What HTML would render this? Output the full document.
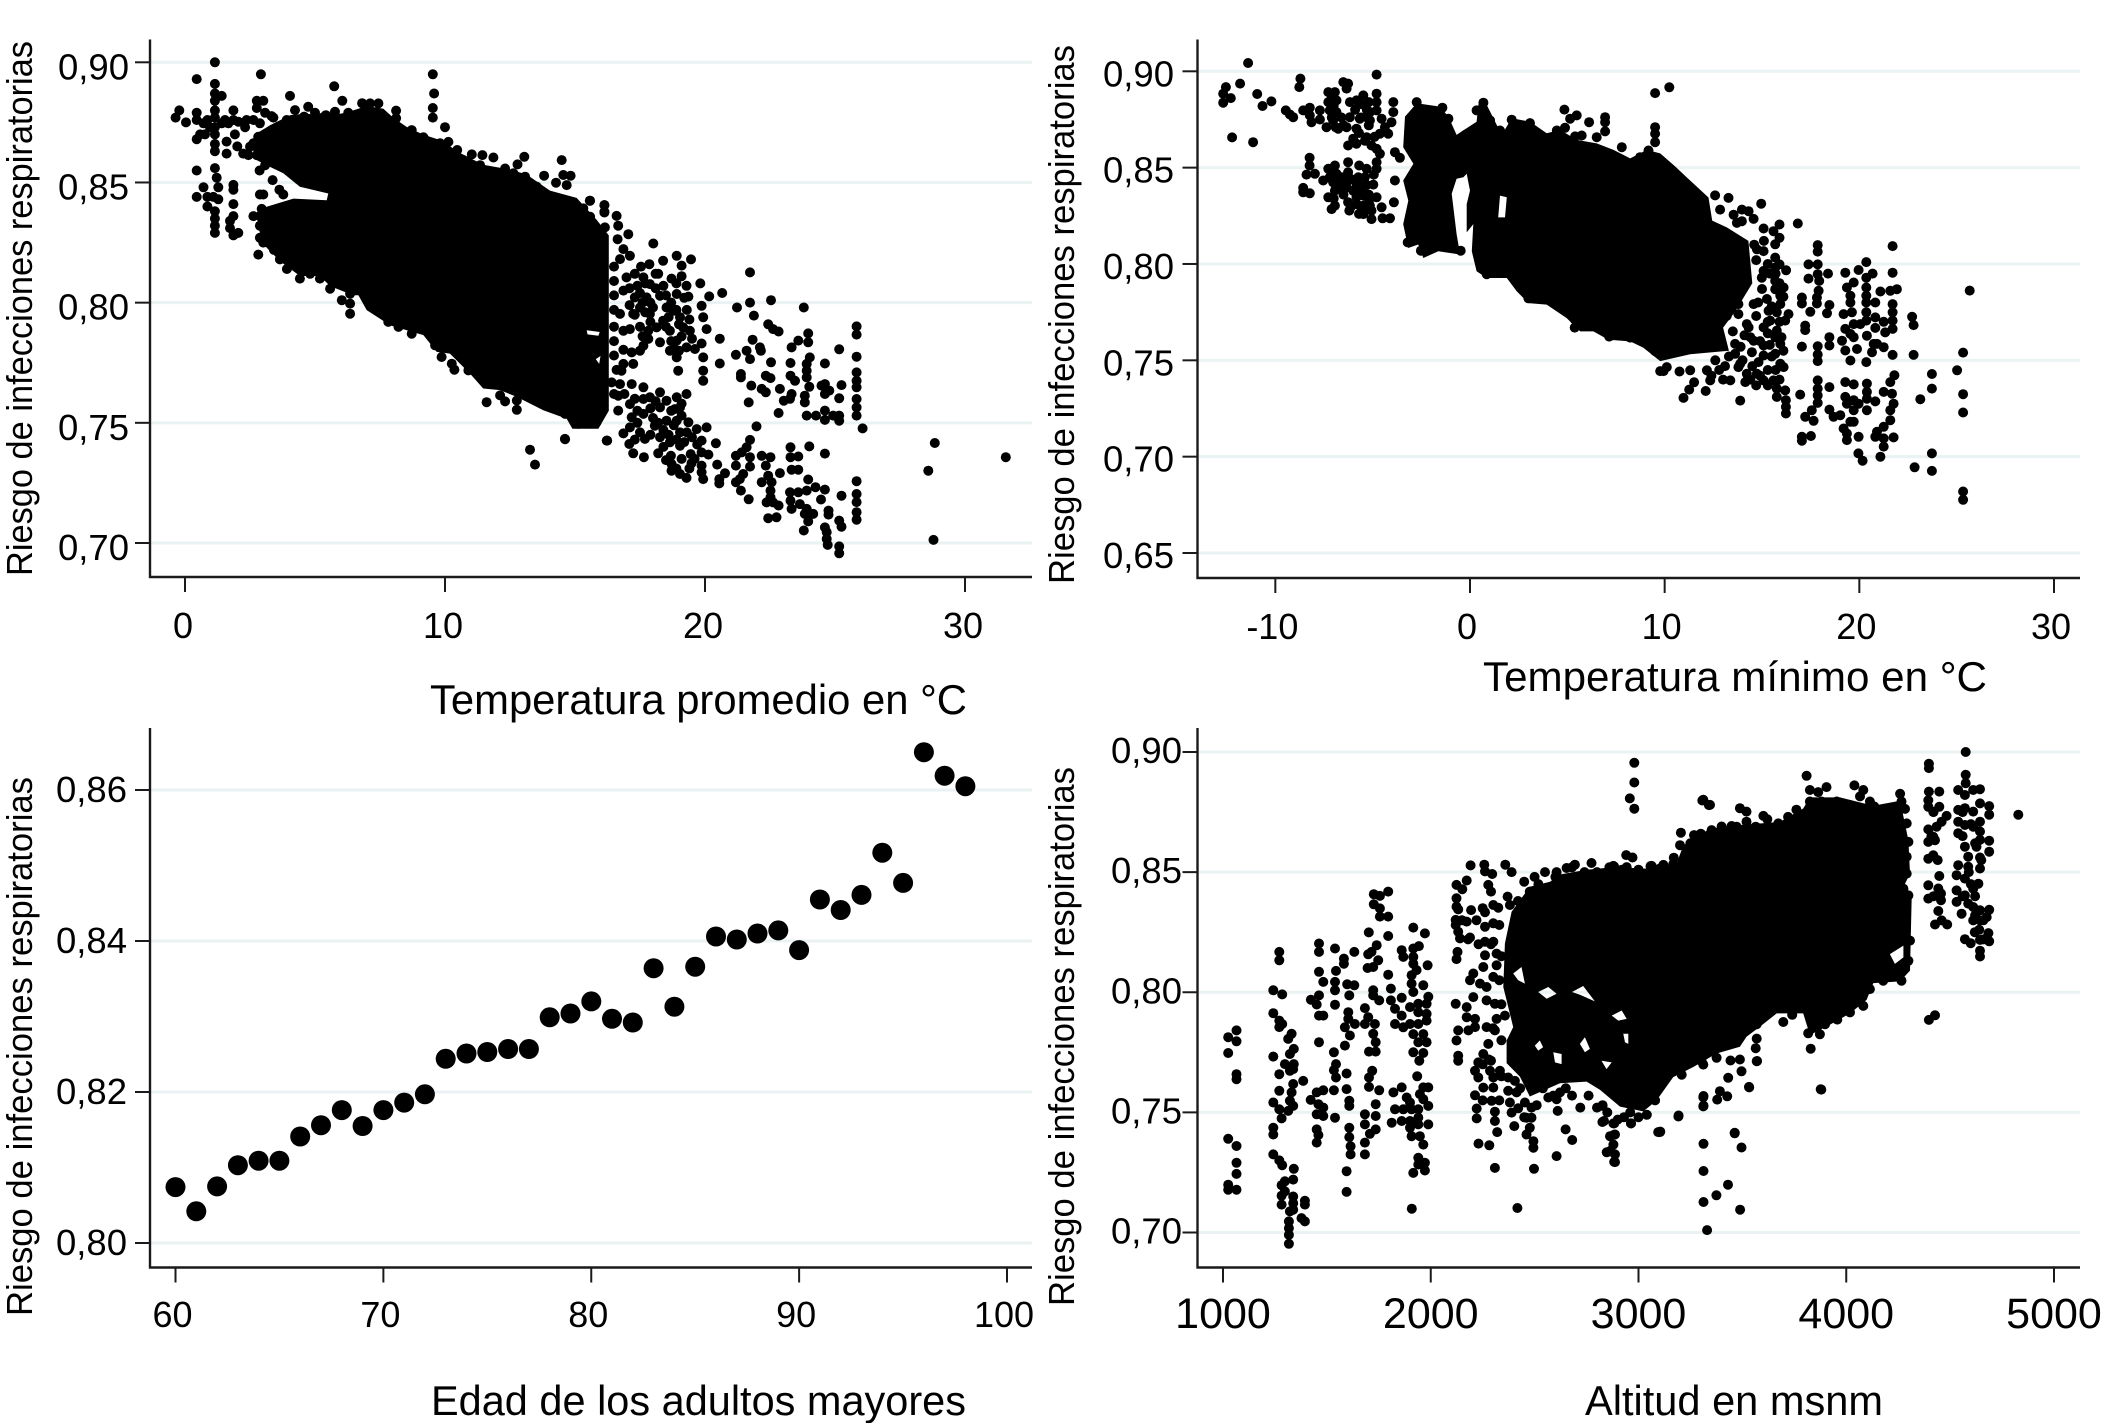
<!DOCTYPE html>
<html lang="es">
<head>
<meta charset="utf-8">
<title>Riesgo de infecciones respiratorias</title>
<style>
html,body{margin:0;padding:0;background:#fff;width:2124px;height:1423px;overflow:hidden}
svg{display:block}
text{font-family:"Liberation Sans",Arial,sans-serif;fill:#000}
.xt{font-size:41.5px;text-anchor:start}
.yt{font-size:36px;text-anchor:start}
</style>
</head>
<body>
<svg id="chart" width="2124" height="1423" viewBox="0 0 2124 1423" xmlns="http://www.w3.org/2000/svg">
  <g id="p1"></g>
  <g id="p2"></g>
  <g id="p3"></g>
  <g id="p4"></g>
  <text class="xt" x="430" y="714" textLength="537" lengthAdjust="spacingAndGlyphs">Temperatura promedio en °C</text>
  <text class="xt" x="1483" y="691" textLength="504" lengthAdjust="spacingAndGlyphs">Temperatura mínimo en °C</text>
  <text class="xt" x="431" y="1415" textLength="535" lengthAdjust="spacingAndGlyphs">Edad de los adultos mayores</text>
  <text class="xt" x="1585" y="1415" textLength="298" lengthAdjust="spacingAndGlyphs">Altitud en msnm</text>
  <text class="yt" transform="translate(32,576) rotate(-90)" textLength="535" lengthAdjust="spacingAndGlyphs">Riesgo de infecciones respiratorias</text>
  <text class="yt" transform="translate(1074,584) rotate(-90)" textLength="539" lengthAdjust="spacingAndGlyphs">Riesgo de infecciones respiratorias</text>
  <text class="yt" transform="translate(32,1316) rotate(-90)" textLength="539" lengthAdjust="spacingAndGlyphs">Riesgo de infecciones respiratorias</text>
  <text class="yt" transform="translate(1074,1306) rotate(-90)" textLength="539" lengthAdjust="spacingAndGlyphs">Riesgo de infecciones respiratorias</text>
</svg>
<script>
// ---- tick values and labels ----
const avgXTicks=[0,10,20,30];
const avgXLabels=['0','10','20','30'];
const avgYTicks=[0.90,0.85,0.80,0.75,0.70];
const avgYLabels=['0,90','0,85','0,80','0,75','0,70'];
const minXTicks=[-10,0,10,20,30];
const minXLabels=['-10','0','10','20','30'];
const minYTicks=[0.90,0.85,0.80,0.75,0.70,0.65];
const minYLabels=['0,90','0,85','0,80','0,75','0,70','0,65'];
const ageXTicks=[60,70,80,90,100];
const ageXLabels=['60','70','80','90','100'];
const ageYTicks=[0.86,0.84,0.82,0.80];
const ageYLabels=['0,86','0,84','0,82','0,80'];
const altXTicks=[1000,2000,3000,4000,5000];
const altXLabels=['1000','2000','3000','4000','5000'];
const altYTicks=[0.90,0.85,0.80,0.75,0.70];
const altYLabels=['0,90','0,85','0,80','0,75','0,70'];

// ---- edad panel: one mean value per age ----
const ageValues=[60,61,62,63,64,65,66,67,68,69,70,71,72,73,74,75,76,77,78,79,80,81,82,83,84,85,86,87,88,89,90,91,92,93,94,95,96,97,98];
const ageRisk=[.8074,.8042,.8075,.8103,.8109,.8109,.8141,.8156,.8176,.8155,.8176,.8186,.8197,.8244,.8251,.8253,.8257,.8257,.8299,.8304,.832,.8297,.8292,.8364,.8313,.8366,.8406,.8402,.841,.8414,.8388,.8455,.8441,.8461,.8517,.8477,.865,.8619,.8605];

// ---- temperatura promedio: [temp, risk] ----
const avgPoints=[[1.15,.9],[.45,.893],[2.92,.895],[9.53,.895],[9.58,.887],[9.53,.881],[9.53,.877],[10,.873],[5.74,.89],[4.04,.886],[6.05,.884],[6.81,.883],[-.22,.88],[-.36,.877],[.04,.875],[.45,.879],[.45,.876],[1.15,.891],[1.15,.887],[1.15,.884],[1.15,.88],[1.15,.877],[1.15,.873],[1.15,.87],[1.15,.866],[1.15,.863],[1.41,.886],[.86,.876],[.58,.87],[.45,.868],[.77,.87],[1.6,.867],[1.6,.862],[1.86,.88],[1.86,.876],[1.92,.87],[2.01,.865],[2.31,.873],[2.24,.862],[.45,.855],[.45,.844],[.71,.848],[1.15,.856],[1.22,.852],[1.28,.848],[1.09,.844],[1.28,.843],[.86,.844],[.86,.84],[1.15,.838],[1.15,.835],[1.15,.832],[1.15,.829],[1.86,.849],[1.86,.847],[1.86,.841],[1.86,.836],[1.73,.834],[1.73,.831],[2.05,.829],[1.86,.828],[2.76,.884],[3.01,.884],[2.76,.881],[3.08,.879],[3.4,.877],[2.87,.855],[3.37,.851],[3.63,.847],[3.78,.845],[2.88,.845],[3.01,.845],[2.63,.836],[2.95,.839],[2.88,.836],[2.88,.832],[2.88,.827],[3.01,.825],[2.82,.82],[3.42,.822],[3.65,.818],[3.92,.814],[4.42,.81],[4.81,.812],[5.19,.81],
[2.63,.876],[2.88,.8746],[2.5,.8649],[2.76,.8614],[3.08,.8572],[3.33,.8776],[3.59,.8732],[3.91,.876],[4.58,.8774],[5.32,.8771],[5.64,.8771],[6.22,.876],[2.37,.876],[2.44,.8614],[2.82,.869],[2.63,.8663],[1.41,.8746],[1.67,.8746],[2.05,.8753],[1.54,.876],[.71,.8746],[.96,.8729],
[4.23,.8801],[4.74,.8815],[5,.879],[5.42,.878],[5.77,.8794],[6.28,.879],[7.12,.8829],[7.44,.8829],[8.12,.8799],[8.12,.8767],[8.08,.8718],[8.72,.8718],[9.17,.8688],[9.81,.8663],[10.13,.8669],[10.47,.8635],[11.03,.8617],[11.44,.8614],[11.86,.8604],[10.71,.8593],[10.96,.8558],[11.35,.8572],[12.31,.8558],[12.79,.8575],[13.05,.8607],[12.63,.8538],[13.08,.8524],[13.81,.8528],[14.49,.8593],[14.55,.8531],[14.83,.8528],[14.27,.8499],[14.68,.8489],[13.53,.8482],[12.05,.8482],[15.58,.8424],[16.13,.8406],[16.13,.8378],[15.32,.8392],[15.9,.8301],[16.15,.8313],[15.58,.8357],
[6.35,.7954],[6.35,.7996],[6.35,.8037],[6.03,.801],[5.58,.8058],[7.82,.792],[8.21,.7899],[8.72,.7871],[8.21,.7943],[9.62,.7822],[9.87,.7774],[10.26,.7746],[10.36,.7721],[10.9,.7718],[10.96,.7739],[11.54,.7669],[11.6,.7586],[12.05,.7676],[12.12,.7614],[12.31,.7589],[12.76,.7642],[12.76,.7593],[12.76,.7554],[13.4,.76],[13.78,.7579],[14.1,.7579],[14.62,.7537],[15.13,.7496],[15.45,.7499],[15.83,.7503],[14.62,.7432],[16.22,.7426],[13.27,.7388],[13.46,.7326],
[21.73,.8126],[21.73,.8],[21.23,.798],[22.54,.801],[21.88,.7946],[23.8,.798],[18.01,.8246],[20.66,.804],[20.16,.8026],[19.82,.808],[18.91,.8195],[19.46,.818],[18.39,.8174],[18.2,.812],[17.86,.816],[17.54,.815],[19.1,.8154],[19.1,.811],[18.71,.81],[19.29,.807],[18.91,.8036],[19.36,.8025],[19.87,.7987],[19.93,.7939],[20.06,.789],[20.57,.785],[19.87,.783],[19.61,.7807],[20.57,.7747],[19.93,.7772],[19.93,.7717],[19.93,.7675],[18.97,.7717],[18.91,.7772],[18.65,.78],
[17.63,.8105],[17.88,.8077],[16.98,.8105],[16.86,.805],[17.3,.8022],[17.75,.8022],[18.27,.8029],[17.5,.798],[16.73,.7953],[17.24,.7953],[17.88,.7953],[18.52,.798],[18.78,.7966],[19.04,.7939],[18.39,.7925],[18.65,.7883],[19.16,.7897],[19.42,.7883],[18.14,.7897],[17.82,.7883],[17.82,.7849],[17.63,.7821],[18.27,.7835],[18.91,.7842],[19.29,.7814],[18.84,.7807],[16.86,.7883],[17.11,.789],[16.86,.7804],[17.5,.78],[17.18,.7793],[16.86,.7745],[17.24,.7745],[16.79,.7717],[16.66,.832],[17.05,.8285],[16.64,.8264],[16.86,.8223],[17.11,.8195],[16.73,.8181],[15.57,.8424],[16.13,.8406],[16.13,.8375],[16.6,.8361],[14.61,.7433],[16.24,.7426],
[16.5,.815],[16.5,.809],[16.5,.803],[16.5,.797],[16.5,.79],[16.5,.784],[16.5,.778],[16.6,.772],[17.3,.812],[17.4,.807],[17.5,.804],[17.6,.8],[17.7,.796],[17.9,.792],[17.9,.8],[18,.798],[18.1,.806],[18.1,.812],[18.4,.807],[18.5,.803],[18.6,.794],[18.7,.8],[18.9,.797],[19,.791],[19.1,.786],[19,.78],[18.7,.784],[18.5,.79],[18.9,.808],[19.2,.802],[19.3,.797],[19.4,.793],[19.5,.785],[17.5,.79],[17.6,.786],[17.3,.795],[17.1,.799],[17.1,.806],[17.7,.808],
[16.5,.762],[16.9,.762],[17.3,.76],[17.4,.755],[17.9,.756],[18,.752],[18.2,.75],[18.4,.747],[18.6,.745],[18.8,.749],[18.9,.743],[19.2,.742],[19.3,.746],[19.5,.744],[19.7,.741],[18.1,.759],[18.7,.755],[19.1,.753],[19.1,.758],[17.4,.75],[17.3,.743],[17.9,.745],[18.4,.74],[19.6,.735],[18.9,.731],[19.4,.731],[18.5,.7345],
[21.83,.7846],[22.11,.7814],[21.6,.78],[21.19,.7783],[21.73,.7765],[22.54,.7752],[22.15,.78],[21.38,.7703],[21.38,.7689],[22.34,.7696],[22.52,.7686],[21.78,.7655],[22.18,.7641],[22.34,.7627],[22.88,.7641],[23.33,.762],[23.03,.7592],[23.27,.76],[21.68,.7585],[22.83,.7541],[22.43,.791],[22.62,.789],[22.83,.788],[23.97,.7872],[23.97,.7835],[23.59,.7842],[23.33,.7814],[25.16,.7806],[25.83,.7901],[25.83,.7867],[25.83,.7775],[25.83,.771],[25.83,.7675],[25.83,.7648],[25.83,.7599],[25.83,.7564],[25.83,.753],[26.06,.7477],[23.29,.7749],[23.29,.7696],[23.46,.7675],[24.03,.7772],[23.91,.7745],[23.91,.7717],[23.91,.7689],[24.01,.765],[24.61,.7747],[24.61,.7661],[24.48,.7655],[25.25,.7657],[24.61,.762],[24.78,.7634],[25.16,.7602],[23.84,.7613],[23.84,.7585],[23.91,.753],[24.27,.753],[24.61,.7551],[24.61,.7512],[24.93,.753],[25.16,.7509],[25.16,.753],
[21.98,.7485],[21.73,.7429],[21.6,.7398],[21.41,.7377],[21.19,.7363],[21.73,.7357],[22.18,.7363],[22.52,.7357],[21.19,.7322],[21.73,.7318],[22.34,.7322],[22.88,.7291],[21.47,.7287],[21.34,.7266],[21.19,.7253],[22.18,.7253],[22.43,.728],[22.56,.7253],[21.38,.7218],[21.68,.7182],[22.52,.7218],[22.52,.719],[22.37,.7169],[22.62,.7169],[22.83,.7156],[22.43,.7103],[22.75,.7107],[23.29,.7398],[23.29,.7357],[23.59,.736],[24.01,.7402],[24.61,.7372],[23.33,.7305],[23.59,.7305],[23.97,.7264],[24.25,.7232],[24.61,.7222],[23.27,.7211],[23.59,.7211],[23.91,.7218],[23.29,.7176],[23.33,.7142],[23.65,.7162],[23.91,.7142],[23.84,.7121],[24.16,.7121],[23.97,.709],[23.8,.7052],[24.46,.7181],[25.25,.7197],[24.75,.7135],[24.75,.7118],[25.16,.7093],[25.25,.7068],[24.61,.7065],[24.68,.7045],[24.68,.7017],[24.72,.6992],[25.16,.6986],[25.16,.6957],[25.83,.7257],[25.83,.7204],[25.83,.717],[25.83,.7128],[25.83,.7097],[28.84,.7416],[28.59,.7301],[31.57,.7357],[28.79,.7013],
[16.41,.7668],[16.73,.7661],[17.18,.7661],[17.63,.7648],[16.66,.7613],[17.11,.7578],[17.63,.7599],[17.88,.7606],[18.27,.7627],[18.52,.7592],[18.91,.7606],[19.29,.762],[16.66,.7551],[17.18,.7523],[17.63,.7537],[18.27,.7564],[18.84,.7557],[19.04,.7564],[16.86,.7456],[17.11,.7481],[17.5,.746],[17.69,.7433],[18.07,.7488],[18.52,.7509],[18.91,.7509],[19.36,.7502],[19.04,.746],[19.68,.7474],[20.06,.7481],[18.27,.744],[18.65,.7419],[19.04,.7405],[19.87,.7426],[20.42,.7415],[19.87,.7377],[20.13,.7368],[17.09,.7412],[17.24,.7373],[17.65,.7357],[18.2,.7373],[18.69,.7363],[19.1,.735],[19.45,.737],[19.48,.7332],[18.71,.7329],[18.71,.7301],[19.04,.7287],[19.29,.7271],[19.87,.7322],[19.87,.7294],[19.93,.7266],[20.47,.7326],[20.77,.729],[20.55,.7266],[20.55,.7248]];
// outline of the fully overplotted region, plus the small gaps left inside it
const avgMass=[
 [[2.63,.8696],[3.27,.8738],[4.04,.878],[4.68,.8787],[5.32,.8773],[6.22,.8791],[6.99,.8818],[7.63,.8807],[8.01,.8769],[8.53,.8731],[9.17,.8699],[9.94,.8672],[10.45,.863],[11.47,.8574],[12.5,.8554],[13.14,.8533],[14.04,.8466],[15.06,.8436],[15.83,.8345],[16.3,.828],[16.3,.7675],[16.3,.755],[15.9,.7475],[14.9,.7475],[14.68,.7517],[13.78,.7552],[12.76,.7608],[12.12,.7636],[11.47,.7643],[10.96,.7705],[10.19,.7788],[9.68,.7795],[9.17,.7865],[7.88,.7906],[6.99,.7969],[6.67,.8031],[6.47,.8031],[5.58,.8069],[5.19,.8111],[4.42,.8111],[3.65,.8173],[2.95,.825],[2.76,.8357],[3.14,.8399],[4.17,.8433],[5.45,.8426],[5.51,.8454],[4.42,.8482],[3.78,.8538],[3.14,.8572],[2.63,.86]],
 [[15.45,.7885],[15.95,.7878],[15.9,.7862],[15.48,.7868]],
 [[15.8,.7765],[15.98,.7778],[15.93,.7745]]
];

// ---- temperatura minimo: [temp, risk] ----
const minPoints=[[-11.4,.9043],[-12.54,.8918],[-12.68,.8884],[-12.68,.8837],[-12.29,.8861],[-11.81,.8936],[-10.93,.8882],[-10.66,.882],[-10.2,.8844],[-12.22,.8657],[-11.14,.8632],[-9.46,.8797],[-9.25,.8776],[-9.08,.8762],[-8.71,.8962],[-8.77,.8918],[-4.8,.8983],[-8.57,.8797],[-8.23,.8811],[-8.23,.8771],[-8.14,.8736],[-7.71,.8797],[-7.71,.875],[-7.28,.8892],[-6.94,.8892],[-7.28,.884],[-6.86,.8849],[-7.2,.8797],[-6.86,.8788],[-7.37,.871],[-7.03,.8745],[-6.77,.8702],[-6.51,.8944],[-6.26,.8936],[-6.34,.891],[-6.17,.884],[-5.83,.8849],[-5.48,.8875],[-4.8,.8884],[-4.8,.884],[-4.8,.8797],[-5.14,.8788],[-4.54,.8754],[-3.94,.884],[-3.94,.8788],[-4.03,.8736],[-4.37,.871],[-4.2,.8676],[-4.63,.8676],[-5.14,.8745],[-5.66,.8754],[-6.17,.8762],[-6.34,.871],[-5.83,.8702],[-6,.865],[-6.26,.8615],[-5.83,.8624],[-5.31,.8658],[-5.06,.8615],[-4.8,.8598],[-4.63,.8572],[-5.31,.8762],
[-7.1,.886],[-7,.882],[-6.6,.876],[-6.5,.872],[-7.1,.876],[-6.9,.871],[-5.9,.88],[-5.6,.883],[-5.6,.876],[-5.2,.884],[-5.2,.872],[-5.7,.868],[-5.4,.864],[-4.9,.866],[-5.3,.88],
[-6.9,.847],[-6.6,.845],[-6.6,.84],[-6.5,.836],[-7,.844],[-7,.834],[-6.1,.844],[-6,.838],[-5.7,.841],[-5.6,.836],[-5.3,.841],[-5.2,.836],[-5.2,.832],[-5.6,.83],[-5.7,.826],[-5.3,.828],[-6.1,.83],
[-8.24,.8551],[-8.24,.8511],[-8.4,.8464],[-7.97,.8468],[-8.57,.8395],[-8.57,.8372],[-8.23,.8367],[-7.54,.8433],[-7.28,.8494],[-6.94,.8511],[-7.2,.845],[-6.86,.8468],[-7.03,.8424],[-6.68,.8442],[-6.26,.8528],[-6.26,.8476],[-6.26,.8433],[-5.69,.8511],[-5.31,.8494],[-4.8,.8528],[-4.8,.8494],[-4.94,.8464],[-5.74,.845],[-5.4,.845],[-5.83,.8416],[-4.97,.8412],[-6.94,.8381],[-7.28,.8346],[-6.68,.8416],[-6.34,.8398],[-5.91,.8381],[-5.48,.8398],[-5.48,.8355],[-5.83,.8346],[-4.8,.8346],[-6.94,.8303],[-7.11,.8285],[-6.26,.832],[-6.2,.8277],[-5.83,.8311],[-5.48,.8303],[-5.14,.8303],[-5.48,.8259],[-5.06,.8233],[-5.06,.8277],[-4.54,.8294],[-4.49,.8237],[-4.11,.8237],[-3.91,.832],[-3.86,.8433],[-3.86,.858],[-3.6,.8551],
[13.28,.8343],[14.96,.8313],[16.84,.821],[12.59,.8356],[12.85,.8282],[13.54,.8256],[13.97,.8282],[14.31,.8274],[14.57,.8234],[13.97,.8222],[13.71,.8213],[15.08,.8184],[15.9,.8205],[15.59,.817],[15.9,.8136],[15.68,.8102],[15.08,.8067],[14.74,.8076],[15.68,.8033],[15.9,.7998],[16.24,.7967],[15.68,.7981],[15.08,.7964],[14.99,.7929],[15.68,.7912],[15.68,.7869],[16.11,.7878],[15.94,.7835],[15.25,.7818],[14.57,.7792],[15.94,.7792],[13.79,.7792],[13.79,.774],[15.34,.7757],[15.76,.7749],[16.36,.774],[16.19,.7706],[13.19,.7731],[14.22,.7688],[14.31,.7671],[15.08,.7671],[15.42,.7706],[15.76,.7654],[15.68,.762],[15.94,.7585],[14.57,.7602],[15.08,.7577],[14.48,.7542],[15.08,.7525],[15.68,.7534],[14.82,.7491],[15.94,.7482],[16.11,.7465],[13.62,.7585],[13.62,.7534],[13.88,.7482],[13.79,.7465],[14.22,.743],[13.37,.7396],[14.14,.7387],[14.74,.743],[15.08,.7396],[15.59,.7396],[15.76,.7353],[16.19,.7344],[15.76,.731],[16.23,.7293],[16.23,.7258],[16.23,.7224],[12.17,.7448],[12.34,.7396],[11.51,.7386],[11.26,.7348],[12.11,.7341],[10.97,.7305],[13.88,.7291],[11.31,.7448],[10.76,.7442],[9.94,.7444],[10.11,.7465],
[12.6,.81],[13,.805],[13.3,.8],[13.7,.81],[14,.805],[14.6,.81],[14.7,.802],[15.1,.812],[15.3,.8],[15.4,.795],[15,.787],[14.8,.78],[14.7,.773],[14.4,.762],[14.9,.76],[15.3,.764],[15.4,.758],[15.5,.752],[15.3,.745],[14.9,.742],[14.5,.747],[14,.75],[13.9,.757],[14.1,.763],[13.5,.765],[13.3,.752],[13.1,.747],[12.8,.745],[12.6,.75],[13,.74],[12.4,.742],[15.7,.795],[15.9,.79],[16.1,.783],[15.5,.778],[15.3,.77],[15.9,.77],[16,.762],[16.1,.755],[15.7,.745],[15.9,.74],[14.4,.74],[15.3,.737],[14.7,.737],
[17.86,.8098],[17.86,.8064],[17.39,.7998],[17.86,.7998],[17.39,.7924],[17.86,.7947],[17.94,.7912],[18.39,.795],[17.91,.7861],[17.82,.7826],[17.82,.7795],[17.05,.7826],[17.05,.7795],[17.48,.7752],[18.46,.7787],[18.34,.7744],[17.22,.768],[17.22,.7657],[17.05,.7571],[17.86,.7573],[17.86,.753],[17.86,.7496],[18.46,.762],[18.46,.7577],[19.28,.7955],[19.96,.7969],[20.36,.801],[20.68,.795],[19.71,.7904],[19.36,.7878],[19.54,.7835],[19.54,.78],[19.19,.774],[19.62,.7749],[20.36,.7929],[20.36,.7878],[20.36,.7835],[20.36,.78],[20.36,.7749],[20.36,.7706],[20.82,.78],[21.08,.7857],[21.59,.7861],[21.93,.7869],[21.71,.7955],[21.71,.8093],[21.71,.7792],[21.71,.7749],[21.71,.7706],[21.71,.7663],[20.82,.7723],[21.25,.77],[20.82,.7668],[21.33,.7645],[19.71,.7688],[20.05,.7688],[19.28,.7663],[19.54,.7637],[19.11,.7602],[19.71,.762],[20.39,.7628],[20.91,.7585],[21.25,.7568],[20.65,.7542],[19.28,.7551],[19.88,.7559],[19.54,.7499],[20.36,.7491],[21.71,.7528],[22.79,.7528],[20.74,.7585],[22.71,.7726],[22.79,.7683],[25.67,.7862],[25.33,.754],[25.02,.7448],[25.33,.7324],[25.33,.7229],[23.73,.7429],[23.73,.7353],[23.13,.7298],[23.73,.7017],[22.84,.6945],[23.73,.6926],[25.33,.6819],[25.33,.6776],
[17.86,.7396],[17.86,.7353],[17.86,.7318],[17.86,.7279],[18.46,.7361],[16.96,.7322],[17.56,.7241],[17.22,.7207],[17.65,.7186],[17.05,.7103],[17.05,.7083],[17.51,.7107],[18.46,.7244],[18.68,.7207],[19.02,.7215],[19.28,.7387],[19.71,.7375],[19.28,.731],[19.36,.7275],[19.71,.7293],[19.71,.7241],[19.96,.7275],[20.39,.7379],[20.39,.7336],[20.39,.7301],[20.82,.7287],[20.39,.7241],[19.19,.7146],[19.54,.7181],[19.71,.7181],[19.36,.712],[19.36,.7086],[19.96,.7103],[21.8,.7422],[21.59,.7387],[21.25,.7336],[21.68,.7327],[21.76,.7275],[21.59,.7241],[21.59,.7189],[21.25,.7155],[20.91,.7129],[20.82,.7103],[21.25,.7095],[21.76,.71],[21.25,.7052],[21.08,.7],[19.95,.7017],[20.17,.6979],
[4.85,.8801],[5.14,.8754],[5.48,.8771],[6.12,.8736],[6.94,.8762],[6.94,.8736],[6.94,.8688],[6.51,.8658],[5.74,.8667],[5.4,.8662],[4.46,.8693],[4.88,.8707],[7.8,.8606],[8.74,.8554],[9.17,.8589],[9.51,.8887],[10.24,.8917],[9.51,.871],[9.51,.8676],[9.51,.8632],[3.08,.8731],[2.14,.8749],[1.54,.8693],[.69,.8837],[.34,.8797],[1.03,.8745],[-2.74,.884],[-1.42,.8811],[-1.11,.8754],[5.38,.7713],[5.38,.767],[6.34,.7678],[7.15,.7623],[8.23,.7618],[3,.7822],[.86,.7947],[-.48,.8069],[-2.52,.8069],[-3.2,.8112],[-1.63,.8095],[9.51,.7548],[9.77,.7444]];
const minMass=[
 [[-3.34,.8765],[-2.74,.8834],[-1.54,.8817],[-1.11,.8765],[-.69,.867],[-.34,.8694],[.34,.8738],[.43,.8826],[.69,.886],[1.2,.8756],[1.63,.867],[2.14,.8756],[3.08,.8739],[3.94,.8678],[4.63,.8696],[5.48,.8644],[6.51,.8626],[7.37,.8592],[8.23,.8548],[9.08,.8592],[9.77,.8574],[10.5,.851],[11.14,.8449],[12.25,.8345],[12.44,.8225],[13.19,.819],[14.3,.812],[14.5,.79],[13.6,.775],[13,.767],[13.3,.755],[11.31,.7531],[9.77,.7496],[8.91,.7565],[8.23,.7598],[7.11,.7607],[6.34,.765],[5.66,.765],[4.97,.7719],[3.94,.7789],[3,.7797],[2.4,.7858],[1.89,.7927],[.86,.7927],[.34,.7962],[.09,.8066],[.17,.8207],[-.17,.8164],[-.17,.8311],[0,.8381],[-.17,.8468],[-.34,.845],[-.69,.8442],[-.94,.8364],[-.69,.8155],[-.51,.8049],[-1.63,.8066],[-2.4,.8031],[-2.66,.8101],[-3.17,.8083],[-3.43,.8207],[-3.17,.8329],[-3.43,.8433],[-2.91,.852],[-3.43,.8606]],
 [[1.54,.8355],[1.89,.8346],[1.8,.8242],[1.45,.8242]]
];

// ---- altitud: [msnm, risk] ----
const altPoints=[[1065,.7841],[1025,.7813],[1065,.7796],[1025,.7747],[1065,.7659],[1065,.7638],[1025,.739],[1065,.736],[1065,.729],[1065,.7244],[1025,.7199],[1025,.7178],[1065,.7178],[1271,.8168],[1271,.8133],[1242,.8008],[1285,.7991],[1242,.7913],[1271,.7882],[1285,.7868],[1271,.7855],[1330,.7827],[1314,.7806],[1341,.7764],[1322,.7743],[1242,.7732],[1298,.7701],[1341,.7701],[1322,.7673],[1338,.768],[1271,.7659],[1386,.7631],[1338,.7618],[1271,.759],[1330,.7583],[1322,.7548],[1338,.7527],[1242,.7541],[1271,.7513],[1314,.7506],[1282,.7475],[1242,.7436],[1242,.7408],[1242,.7325],[1271,.73],[1285,.728],[1341,.7265],[1338,.722],[1298,.7213],[1282,.7197],[1298,.7171],[1282,.7153],[1338,.715],[1338,.7122],[1282,.7116],[1322,.7088],[1338,.7095],[1394,.7132],[1394,.7116],[1378,.706],[1394,.7046],[1317,.7046],[1317,.7018],[1317,.699],[1317,.6953],
[1462,.8203],[1462,.8168],[1539,.8182],[1632,.8168],[1582,.814],[1582,.8119],[1462,.8085],[1544,.8089],[1483,.8043],[1539,.8043],[1539,.8008],[1598,.8033],[1632,.8029],[1608,.7987],[1423,.7969],[1462,.7987],[1451,.7949],[1539,.7948],[1462,.7903],[1483,.7903],[1603,.7917],[1603,.7889],[1635,.7868],[1587,.7854],[1611,.782],[1587,.7778],[1534,.775],[1462,.7792],[1544,.7701],[1534,.7676],[1544,.7645],[1595,.7662],[1483,.7592],[1451,.7583],[1422,.7552],[1459,.7534],[1483,.752],[1451,.7492],[1483,.7485],[1534,.7592],[1595,.7597],[1539,.7478],[1608,.7548],[1608,.7527],[1451,.7429],[1459,.7406],[1451,.7374],[1608,.7436],[1608,.7397],[1614,.7359],[1614,.7325],[1595,.7255],[1595,.7169],
[1726,.8408],[1755,.8401],[1795,.8419],[1726,.8366],[1755,.8349],[1755,.8315],[1795,.8315],[1702,.8249],[1795,.8234],[1740,.8196],[1715,.8168],[1699,.8158],[1747,.8133],[1723,.8105],[1696,.8101],[1795,.8073],[1723,.8008],[1752,.7966],[1723,.7987],[1683,.7934],[1699,.7896],[1683,.7868],[1731,.7868],[1723,.7827],[1735,.7792],[1703,.7753],[1735,.7753],[1718,.7673],[1703,.7645],[1703,.7606],[1752,.7592],[1735,.7534],[1683,.7492],[1735,.7485],[1683,.745],[1735,.7429],[1707,.7411],[1683,.7374],[1683,.7325],
[1916,.8269],[1972,.8245],[1860,.8175],[1868,.8147],[1916,.8182],[1943,.8192],[1916,.8147],[1916,.8119],[1985,.8112],[1932,.8092],[1908,.8071],[1964,.8029],[1908,.8036],[1916,.8001],[1860,.7977],[1808,.8015],[1808,.7966],[1828,.7931],[1988,.7981],[1900,.7938],[1940,.7952],[1980,.7952],[1940,.7917],[1980,.791],[1860,.7903],[1828,.7868],[1868,.7854],[1900,.7868],[1940,.7868],[1980,.7882],[1916,.7826],[1964,.7826],[1940,.7792],[1980,.7792],[1916,.775],[1964,.7747],[1945,.7715],[1935,.765],[1964,.7604],[1988,.7604],[1948,.7576],[1964,.7555],[1988,.7527],[1988,.745],[1860,.7604],[1820,.7583],[1884,.7562],[1900,.7541],[1828,.7513],[1868,.7513],[1908,.7513],[1940,.7513],[1812,.7457],[1860,.7464],[1900,.7464],[1940,.7478],[1940,.745],[1900,.7436],[1908,.7401],[1948,.7401],[1964,.7366],[1940,.7311],[1972,.729],[1916,.7248],[1972,.7258],[1940,.7283],[1909,.7099],
[2192,.8528],[2258,.8531],[2296,.8492],[2261,.8503],[2359,.8531],[2389,.85],[2173,.8465],[2124,.8447],[2152,.8429],[2277,.8447],[2290,.8419],[2124,.8391],[2124,.8356],[2132,.8345],[2194,.8342],[2261,.8333],[2301,.8363],[2325,.8352],[2370,.8398],[2381,.8363],[2120,.8301],[2120,.828],[2132,.8252],[2141,.8224],[2173,.8294],[2189,.8228],[2129,.8168],[2124,.8138],[2261,.8273],[2301,.8287],[2261,.821],[2301,.821],[2261,.8154],[2317,.8161],[2253,.8105],[2317,.8112],[2205,.8078],[2189,.805],[2237,.8036],[2269,.8022],[2301,.8064],[2205,.798],[2269,.7966],[2309,.7952],[2120,.7952],[2173,.7938],[2173,.7896],[2213,.7889],[2132,.7841],[2124,.7799],[2132,.7736],[2132,.7715],[2181,.7841],[2213,.7855],[2269,.7855],[2309,.7841],[2317,.7889],[2357,.7903],[2277,.7785],[2253,.7743],[2290,.7715],[2229,.7708],[2213,.7673],[2285,.7673],[2333,.7673],[2229,.7645],[2301,.7645],[2253,.7603],[2301,.7603],[2213,.7571],[2293,.7548],[2221,.7516],[2221,.7475],[2309,.7503],[2309,.7464],[2320,.7418],[2230,.737],[2282,.7363],[2309,.7269],[2373,.7645],[2405,.7631],[2373,.759],[2413,.7583],[2381,.7541],[2453,.7541],[2389,.7499],[2421,.7517],[2461,.7478],[2485,.752],[2485,.7478],[2477,.7436],[2461,.7408],[2494,.738],[2494,.7353],[2402,.7443],[2497,.7265],[2417,.7102],
[2150,.83],[2180,.822],[2220,.83],[2230,.82],[2250,.835],[2290,.82],[2330,.828],[2340,.815],[2330,.805],[2340,.795],[2300,.785],[2280,.772],[2340,.78],[2250,.77],[2250,.755],[2330,.755],[2340,.765],[2400,.775],[2430,.76],[2450,.748],[2510,.753],[2540,.76],[2590,.757],[2650,.76],[2680,.757],[2720,.752],[2760,.757],[2800,.752],[2850,.75],[2900,.747],[2930,.748],[2960,.75],[3000,.748],[3040,.749],[3080,.755],
[2420,.838],[2450,.846],[2500,.848],[2550,.85],[2600,.848],[2680,.852],[2740,.85],[2800,.85],[2860,.852],[2920,.851],[3000,.851],[3120,.853],[3170,.856],[3250,.862],[3300,.866],[3400,.869],[3520,.871],[3620,.872],[3720,.873],[3760,.876],
[4560,.875],[4560,.865],[4600,.87],[4620,.862],[4590,.85],[4600,.845],[4560,.84],[4620,.84],[4650,.855],[4660,.83],[4620,.832],[4640,.826],[4660,.822],[4420,.875],[4410,.865],[4440,.855],[4420,.84],
[2566,.7562],[2606,.7555],[2622,.7583],[2611,.7506],[2649,.7429],[2681,.7385],[2606,.7318],[2826,.7527],[2826,.746],[2879,.7454],[2964,.7454],[3095,.7418],[2887,.7408],[2863,.7401],[2879,.7366],[2847,.7334],[2887,.7325],[2887,.7293],[2606,.85],[2654,.8517],[2694,.8531],[2774,.8538],[2879,.8526],[2943,.8521],[3063,.8526],[2518,.845],[2477,.8419],
[3312,.8801],[3344,.878],[3488,.8766],[3520,.8752],[3601,.8734],[3204,.8664],[3200,.8612],[3267,.8654],[3167,.8533],[3058,.8525],[3103,.8515],[3036,.848],[3448,.8692],[3472,.8689],[3564,.8689],[3352,.8675],[3633,.8682],[3673,.8703],[3761,.8717],[3809,.8901],[3825,.8842],[3865,.8833],[3905,.8854],[4039,.8861],[4082,.8842],[4066,.8815],[4114,.8794],[4135,.8773],[4259,.8826],[4266,.8794],[4283,.8763],[4218,.8759],[3954,.8794],[3881,.8794],[3825,.8794],[4015,.878],[4291,.8703],[4299,.8626],[4291,.8564],[4291,.8494],[4275,.8431],[4299,.8403],[4283,.8334],[4307,.8215],[4299,.8131],[4266,.8048],[4178,.8048],[4114,.8013],[4082,.7943],[4018,.7916],[3957,.7886],[3898,.7867],[3873,.7825],[3817,.7829],[3829,.7765],[3880,.7595],[3740,.7906],[3697,.7876],[3569,.7867],[3569,.7807],[3564,.7767],[3569,.7713],[3533,.7604],[3488,.772],[3443,.7716],[3496,.7671],[3432,.7644],[3392,.7588],[3427,.7567],[3379,.7553],[3312,.7563],[3312,.7525],[3304,.7713],[3312,.7699],[3376,.7727],[3232,.7699],[3208,.7657],[3192,.7483],[3103,.7418],[3463,.7413],
[3105,.742],[3193,.7487],[3313,.7568],[3313,.7528],[3313,.7369],[3313,.7256],[3313,.7127],[3330,.701],[3375,.7155],[3431,.7199],[3489,.7095],[3496,.7354],[3463,.7415],[3532,.7606],[3571,.7714],[3877,.7596],[2964,.7454],[2883,.7454],[2883,.7407],[2866,.7341],[2883,.7294],[2834,.7464],[2827,.753],[2980,.8955],[2980,.8873],[2958,.8807],[2980,.8764],[2941,.8571],[2971,.8561],[2883,.8523],[2948,.8476],[3062,.8523],[3111,.8514],[3307,.8798],[3339,.8779],
[4398,.8951],[4398,.8933],[4575,.9],[4575,.8905],[4828,.8739],[4398,.8835],[4395,.8799],[4395,.8772],[4419,.8751],[4448,.8835],[4448,.8772],[4483,.8734],[4459,.871],[4435,.8689],[4395,.8678],[4419,.8647],[4395,.8626],[4427,.8633],[4419,.857],[4395,.8556],[4448,.8484],[4395,.8445],[4395,.839],[4443,.8432],[4456,.8411],[4456,.8383],[4443,.8338],[4427,.8282],[4459,.8299],[4486,.8282],[4398,.7885],[4427,.7904],
[4575,.887],[4539,.8842],[4571,.8821],[4611,.8842],[4644,.8845],[4644,.8786],[4688,.8775],[4688,.8739],[4539,.8759],[4571,.8766],[4611,.8752],[4539,.871],[4571,.8696],[4539,.8662],[4611,.8689],[4644,.871],[4644,.8669],[4644,.8634],[4688,.8631],[4688,.8585],[4571,.8606],[4627,.8606],[4587,.8564],[4644,.8561],[4539,.8529],[4587,.8522],[4644,.8515],[4531,.8487],[4571,.8473],[4531,.8424],[4571,.8403],[4636,.8452],[4611,.8431],[4531,.8376],[4587,.8369],[4611,.8355],[4555,.8327],[4644,.8341],[4688,.8343],[4611,.8299],[4644,.8299],[4676,.8313],[4619,.825],[4684,.8246],[4571,.8221],[4599,.8204],[4644,.8218],[4688,.8212],[4644,.8173],[4644,.8149]];
const altMass=[
 [[2389,.8335],[2477,.8439],[2574,.846],[2622,.849],[2750,.851],[2878,.852],[3055,.8514],[3183,.8535],[3216,.8612],[3344,.8681],[3472,.8695],[3681,.8709],[3793,.8765],[3825,.8811],[3970,.8811],[4130,.8776],[4259,.8797],[4299,.8633],[4307,.8494],[4275,.8438],[4315,.8396],[4307,.809],[4259,.8045],[4130,.8038],[4098,.7968],[4018,.7912],[3905,.7857],[3825,.7822],[3793,.7912],[3665,.7912],[3585,.7857],[3520,.7815],[3488,.7773],[3376,.7745],[3264,.7689],[3167,.7647],[3087,.755],[3023,.7504],[2911,.7524],[2814,.7594],[2750,.7628],[2622,.7621],[2477,.7566],[2429,.7649],[2365,.7705],[2365,.7799],[2397,.7855],[2349,.8022],[2357,.8203]],
 [[2517,.8001],[2566,.8022],[2606,.7994],[2558,.7973]],
 [[2680,.8001],[2734,.8026],[2790,.7962],[2718,.799]],
 [[2397,.8078],[2437,.8105],[2453,.8036],[2421,.805]],
 [[2871,.7903],[2919,.7924],[2943,.7889],[2903,.7882]],
 [[2718,.7785],[2742,.7813],[2766,.7764],[2742,.775]],
 [[2590,.775],[2630,.7743],[2630,.7701],[2598,.7708]],
 [[2501,.7778],[2525,.7799],[2541,.7771],[2517,.7757]],
 [[2927,.7827],[2951,.7827],[2951,.7785],[2935,.7792]],
 [[2822,.7715],[2871,.7708],[2846,.768]],
 [[4210,.8159],[4275,.8194],[4275,.8145],[4234,.8118]]
];

const SVGNS='http://www.w3.org/2000/svg';
function make(parent,tag,attrs){
  const el=document.createElementNS(SVGNS,tag);
  for(const k in attrs){el.setAttribute(k,attrs[k]);}
  parent.appendChild(el);
  return el;
}
function linear(d0,d1,r0,r1){return v=>r0+(v-d0)*(r1-r0)/(d1-d0);}

function drawPanel(cfg){
  const g=document.getElementById(cfg.id);
  const X=linear(cfg.xd[0],cfg.xd[1],cfg.xr[0],cfg.xr[1]);
  const Y=linear(cfg.yd[0],cfg.yd[1],cfg.yr[0],cfg.yr[1]);
  cfg.yTicks.forEach((v,i)=>{
    const grid=make(g,'line',{x1:cfg.left,x2:cfg.right,y1:Y(v),y2:Y(v),stroke:'#eaf2f3','stroke-width':3});
    
    
  });
  if(cfg.mass){
    let d='';
    cfg.mass.forEach(ring=>{
      ring.forEach((p,i)=>{d+=(i?'L':'M')+X(p[0]).toFixed(1)+' '+Y(p[1]).toFixed(1);});
      d+='Z';
    });
    const m=make(g,'path',{d:d,fill:'#000','fill-rule':'evenodd'});
    
    
  }
  cfg.points.forEach(p=>{
    const c=make(g,'circle',{cx:X(p[0]).toFixed(1),cy:Y(p[1]).toFixed(1),r:cfg.r,fill:'#000'});
    
    
  });
  const ya=make(g,'line',{x1:cfg.left,x2:cfg.left,y1:cfg.top,y2:cfg.bottom+1,stroke:'#1a1a1a','stroke-width':2.4});
  
  
  const xa=make(g,'line',{x1:cfg.left-1,x2:cfg.right,y1:cfg.bottom,y2:cfg.bottom,stroke:'#1a1a1a','stroke-width':2.4});
  
  
  cfg.yTicks.forEach((v,i)=>{
    const t=make(g,'line',{x1:cfg.left-15,x2:cfg.left,y1:Y(v),y2:Y(v),stroke:'#1a1a1a','stroke-width':2});
    
    
    const l=make(g,'text',{x:cfg.yLabelX,y:Y(v)+cfg.yLabelDy,'text-anchor':'end','font-size':36.5});
    
    
    l.textContent=cfg.yLabels[i];
  });
  cfg.xTicks.forEach((v,i)=>{
    const t=make(g,'line',{x1:X(v),x2:X(v),y1:cfg.bottom,y2:cfg.bottom+15,stroke:'#1a1a1a','stroke-width':2});
    
    
    const l=make(g,'text',{x:X(v)+cfg.xLabelDx,y:cfg.xLabelY,'text-anchor':'middle','font-size':cfg.xFont});
    
    
    l.textContent=cfg.xLabels[i];
  });
}

drawPanel({id:'p1',left:150,right:1032,top:39.5,bottom:577,xd:[0,30],xr:[185,965],yd:[.9,.7],yr:[62.3,543],
  xTicks:avgXTicks,xLabels:avgXLabels,yTicks:avgYTicks,yLabels:avgYLabels,points:avgPoints,mass:avgMass,r:5,
  yLabelX:129,yLabelDy:17,xLabelY:638,xLabelDx:-2,xFont:36});
drawPanel({id:'p2',left:1197.5,right:2080,top:39.5,bottom:578,xd:[0,30],xr:[1470,2054],yd:[.9,.65],yr:[71.3,553],
  xTicks:minXTicks,xLabels:minXLabels,yTicks:minYTicks,yLabels:minYLabels,points:minPoints,mass:minMass,r:5,
  yLabelX:1174,yLabelDy:15,xLabelY:639,xLabelDx:-3,xFont:36});
drawPanel({id:'p3',left:150,right:1032,top:728,bottom:1267.5,xd:[60,100],xr:[175.5,1007],yd:[.86,.8],yr:[790,1243],
  xTicks:ageXTicks,xLabels:ageXLabels,yTicks:ageYTicks,yLabels:ageYLabels,points:ageValues.map((a,i)=>[a,ageRisk[i]]),r:10,
  yLabelX:127,yLabelDy:12,xLabelY:1327,xLabelDx:-3,xFont:36});
drawPanel({id:'p4',left:1197.5,right:2080,top:728,bottom:1267.5,xd:[1000,5000],xr:[1223,2054],yd:[.9,.7],yr:[752,1232.5],
  xTicks:altXTicks,xLabels:altXLabels,yTicks:altYTicks,yLabels:altYLabels,points:altPoints,mass:altMass,r:5,
  yLabelX:1182,yLabelDy:11,xLabelY:1328,xLabelDx:0,xFont:43});
</script>
</body>
</html>
